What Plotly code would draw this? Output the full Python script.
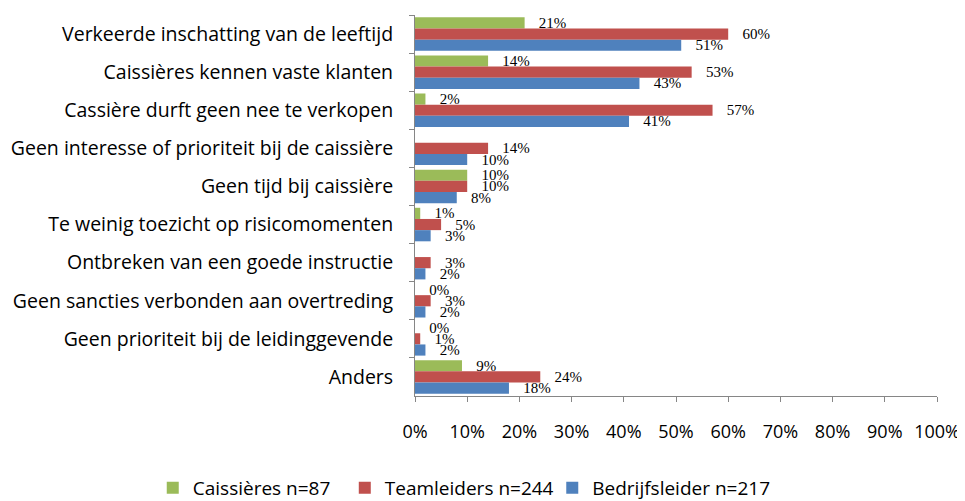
import plotly.graph_objects as go

categories = [
    "Verkeerde inschatting van de leeftijd",
    "Caissières kennen vaste klanten",
    "Cassière durft geen nee te verkopen",
    "Geen interesse of prioriteit bij de caissière",
    "Geen tijd bij caissière",
    "Te weinig toezicht op risicomomenten",
    "Ontbreken van een goede instructie",
    "Geen sancties verbonden aan overtreding",
    "Geen prioriteit bij de leidinggevende",
    "Anders",
]
caissieres = [21, 14, 2, None, 10, 1, None, 0, 0, 9]
teamleiders = [60, 53, 57, 14, 10, 5, 3, 3, 1, 24]
bedrijfsleider = [51, 43, 41, 10, 8, 3, 2, 2, 2, 18]

series = [
    ("Caissières n=87", caissieres, "#9BBB59", "legend", 0.150),
    ("Teamleiders n=244", teamleiders, "#C0504D", "legend2", 0.349),
    ("Bedrijfsleider n=217", bedrijfsleider, "#4F81BD", "legend3", 0.564),
]

fig = go.Figure()
legends = {}
for name, vals, col, leg, lx in series:
    fig.add_trace(go.Bar(
        y=categories, x=vals, name=name, orientation="h", legend=leg,
        showlegend=True,
        marker=dict(color=col, line=dict(width=0)),
        text=[("" if v is None else f"   {v}%") for v in vals],
        textposition="outside", cliponaxis=False, constraintext="none",
        textfont=dict(family="Liberation Serif", size=15, color="#000"),
    ))
    legends[leg] = dict(orientation="h", x=lx, xanchor="left", xref="container",
                        y=0.042, yanchor="middle", yref="container",
                        font=dict(size=19), itemwidth=30,
                        bgcolor="rgba(0,0,0,0)")

fig.update_layout(
    barmode="group", bargap=0.12, bargroupgap=0,
    width=965, height=501, showlegend=True,
    margin=dict(l=407, r=36, t=7, b=113, autoexpand=False),
    paper_bgcolor="white", plot_bgcolor="white",
    font=dict(family="Open Sans", size=18, color="#000"),
    **legends,
)
fig.update_xaxes(range=[0, 100], dtick=10, ticksuffix="%", showgrid=False,
                 showline=True, linecolor="#868686", ticks="outside", ticklen=5,
                 tickcolor="#868686", tickfont=dict(size=18), zeroline=False,
                 ticklabelstandoff=14)
fig.update_yaxes(autorange="reversed", showline=True, linecolor="#868686",
                 ticks="outside", ticklen=5, tickcolor="#868686", tickson="boundaries",
                 tickfont=dict(size=19.5), showgrid=False, ticklabelstandoff=17)

fig.write_html("out.html")
